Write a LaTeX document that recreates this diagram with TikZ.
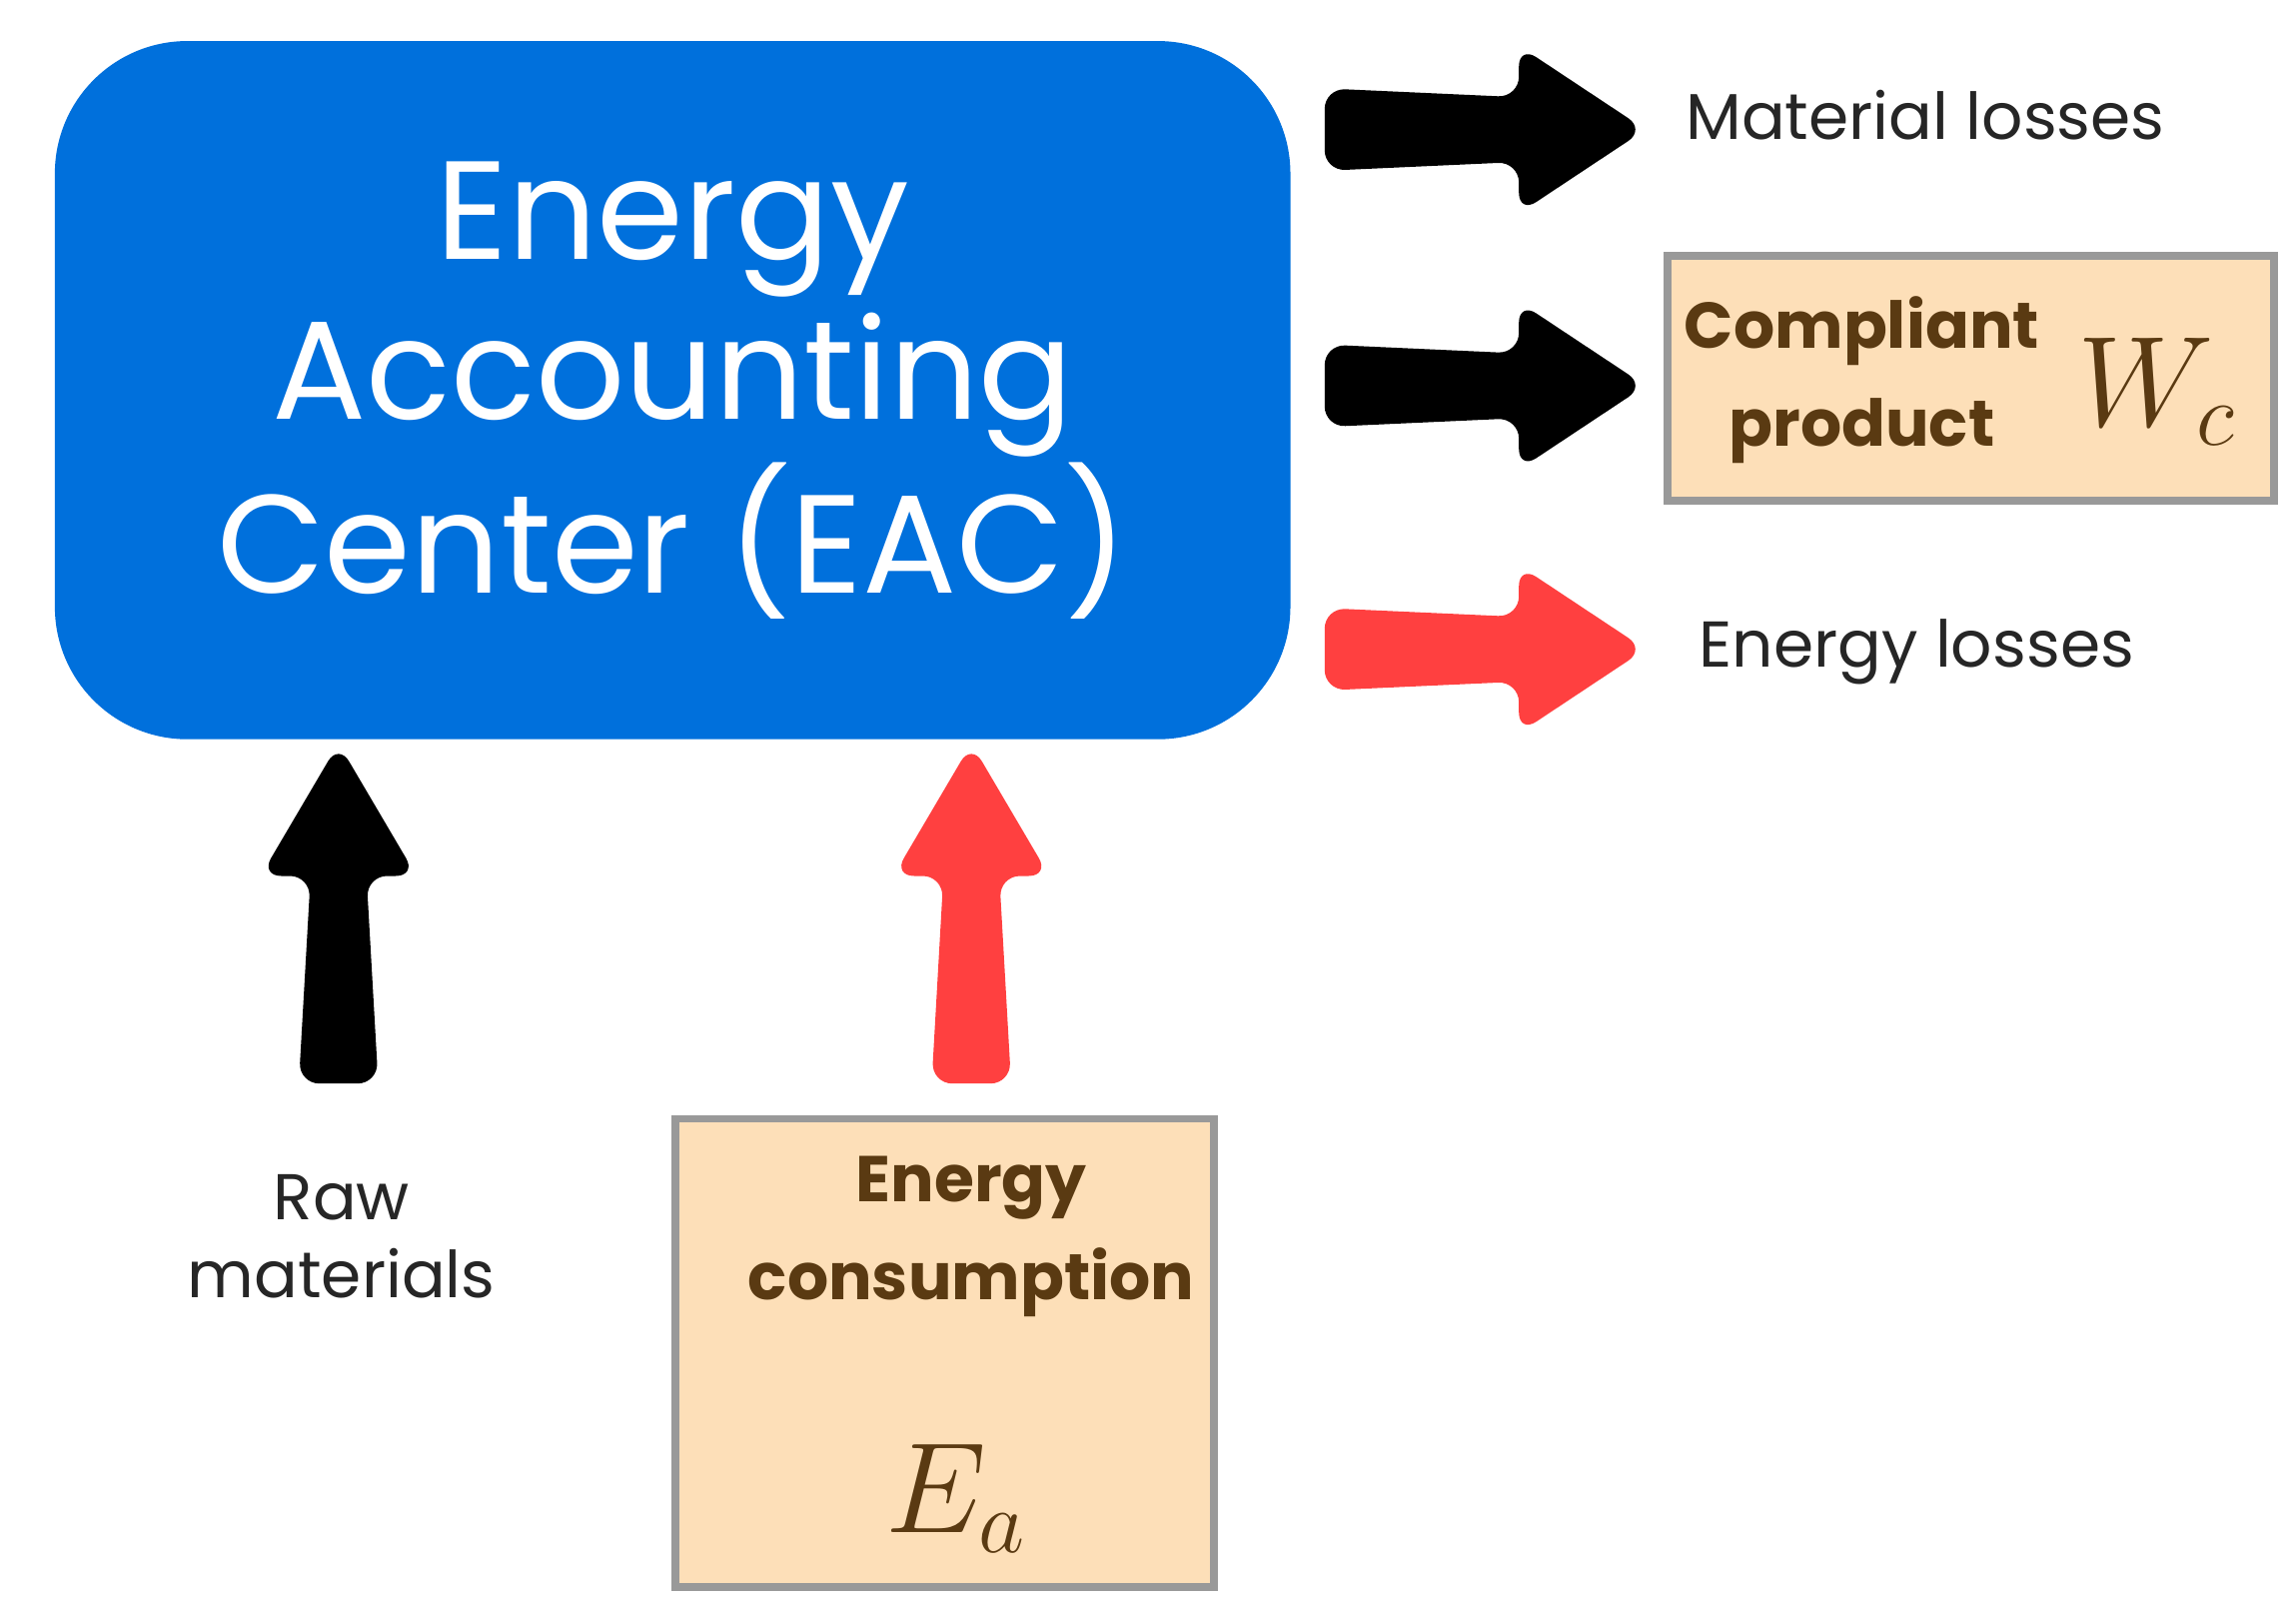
\documentclass[tikz,border=0pt]{standalone}
\usepackage{fontspec}
\setmainfont{Poppins}
\begin{document}
\begin{tikzpicture}[x=0.01cm,y=-0.01cm,
  fat/.style={line join=round,rounded corners=4pt},
  peach/.style={draw=gray!80,line width=1.5pt,fill=peachc},
  lab/.style={font=\fontsize{12.5}{15}\selectfont,text=black!85,align=center},
  blab/.style={font=\bfseries\fontsize{12.5}{19}\selectfont,text=brownc,align=center}]
\definecolor{bluec}{HTML}{0070DC}
\definecolor{redc}{HTML}{FF4040}
\definecolor{peachc}{HTML}{FDDFB8}
\definecolor{brownc}{HTML}{5A3A12}
\useasboundingbox (0,0) rectangle (1560,1102);
% EAC box
\node[fill=bluec,rounded corners=0.9cm,minimum width=8.39cm,minimum height=4.74cm,
  text=white,align=center,font=\fontsize{27}{31}\selectfont] (eac) at (457,265)
  {Energy\\Accounting\\Center (EAC)};
% right arrows
\foreach \c/\yy in {black/88,black/262,redc/441}{
  \fill[\c,fat] (900,\yy-28) -- (1032,\yy-22) -- (1032,\yy-57) -- (1118,\yy)
     -- (1032,\yy+57) -- (1032,\yy+22) -- (900,\yy+28) -- cycle;}
% up arrows
\foreach \c/\xx in {black/230,redc/660}{
  \fill[\c,fat] (\xx-27,736) -- (\xx-19,595) -- (\xx-53,595) -- (\xx,505)
     -- (\xx+53,595) -- (\xx+19,595) -- (\xx+27,736) -- cycle;}
% labels
\node[lab,anchor=west] (ml) at (1133,78) {Material losses};
\node[lab,anchor=west] (el) at (1142,443) {Energy losses};
\node[lab] (raw) at (232,840) {Raw\\materials};
% compliant product
\draw[peach] (1133,174) rectangle (1545,340);
\node[blab] (cp) at (1265,258) {Compliant\\product};
\node[text=brownc,font=\fontsize{24}{24}\selectfont] (wc) at (1466,266) {$W_c$};
% energy consumption
\draw[peach] (459,760) rectangle (825,1078);
\node[blab] (ec) at (660,840) {Energy\\consumption};
\node[text=brownc,font=\fontsize{26}{26}\selectfont] (ea) at (650,1018) {$E_a$};
\end{tikzpicture}
\end{document}
